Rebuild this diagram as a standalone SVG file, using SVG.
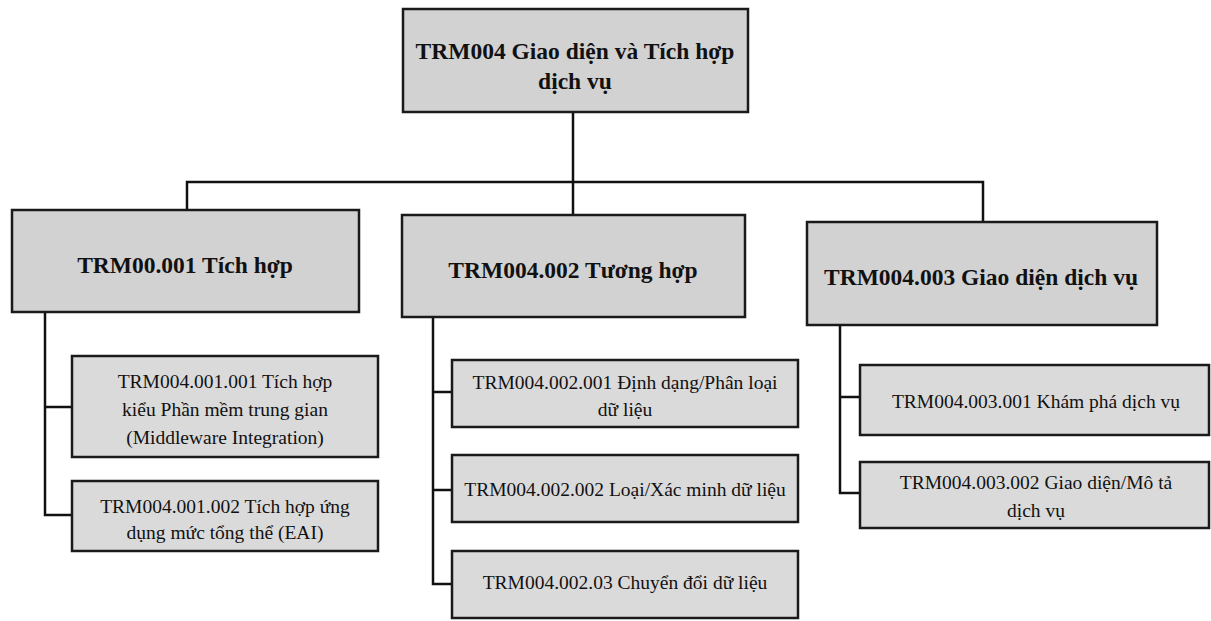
<svg xmlns="http://www.w3.org/2000/svg" width="1211" height="621" viewBox="0 0 1211 621">
<style>
.bg{fill:#ffffff}
.box{fill:#d2d2d2;stroke:#1a1a1a;stroke-width:2.5}
.sub{fill:#dadada;stroke:#1a1a1a;stroke-width:2.5}
text{font-family:'Liberation Serif','Times New Roman',serif}
.t1{font-weight:bold;font-size:23.5px;fill:#111;text-anchor:middle}
.t2{font-size:19.5px;fill:#111;text-anchor:middle}
.ln{fill:none;stroke:#111;stroke-width:2.5}
</style>
<rect class="bg" x="0" y="0" width="1211" height="621"/>
<g id="connectors">
<path class="ln" d="M573,112 V182 M187,210 V182 H983 V222 M573,182 V215"/>
<path class="ln" d="M45,312 V515 H72 M45,407 H72"/>
<path class="ln" d="M433,317 V584 H452 M433,392 H452 M433,490 H452"/>
<path class="ln" d="M840,325 V493 H860 M840,397 H860"/>
</g>
<g id="root">
<rect class="box" x="403" y="9" width="345" height="103"/>
<text class="t1" x="575" y="59">TRM004 Giao diện và Tích hợp</text>
<text class="t1" x="575" y="89">dịch vụ</text>
</g>
<g id="n1">
<rect class="box" x="12" y="210" width="347" height="102"/>
<text class="t1" x="185" y="273">TRM00.001 Tích hợp</text>
</g>
<g id="n2">
<rect class="box" x="402" y="215" width="343" height="102"/>
<text class="t1" x="573" y="278">TRM004.002 Tương hợp</text>
</g>
<g id="n3">
<rect class="box" x="807" y="222" width="350" height="103"/>
<text class="t1" x="981" y="285">TRM004.003 Giao diện dịch vụ</text>
</g>
<g id="n11">
<rect class="sub" x="72" y="356" width="306" height="101"/>
<text class="t2" x="225" y="388">TRM004.001.001 Tích hợp</text>
<text class="t2" x="225" y="416">kiểu Phần mềm trung gian</text>
<text class="t2" x="225" y="444">(Middleware Integration)</text>
</g>
<g id="n12">
<rect class="sub" x="72" y="481" width="306" height="70"/>
<text class="t2" x="225" y="513">TRM004.001.002 Tích hợp ứng</text>
<text class="t2" x="225" y="539">dụng mức tổng thể (EAI)</text>
</g>
<g id="n21">
<rect class="sub" x="452" y="360" width="346" height="67"/>
<text class="t2" x="625" y="389">TRM004.002.001 Định dạng/Phân loại</text>
<text class="t2" x="625" y="416">dữ liệu</text>
</g>
<g id="n22">
<rect class="sub" x="452" y="455" width="346" height="67"/>
<text class="t2" x="625" y="496">TRM004.002.002 Loại/Xác minh dữ liệu</text>
</g>
<g id="n23">
<rect class="sub" x="452" y="551" width="346" height="67"/>
<text class="t2" x="625" y="589">TRM004.002.03 Chuyển đổi dữ liệu</text>
</g>
<g id="n31">
<rect class="sub" x="860" y="365" width="349" height="70"/>
<text class="t2" x="1036" y="408">TRM004.003.001 Khám phá dịch vụ</text>
</g>
<g id="n32">
<rect class="sub" x="860" y="462" width="349" height="66"/>
<text class="t2" x="1036" y="489">TRM004.003.002 Giao diện/Mô tả</text>
<text class="t2" x="1036" y="517">dịch vụ</text>
</g>
</svg>
